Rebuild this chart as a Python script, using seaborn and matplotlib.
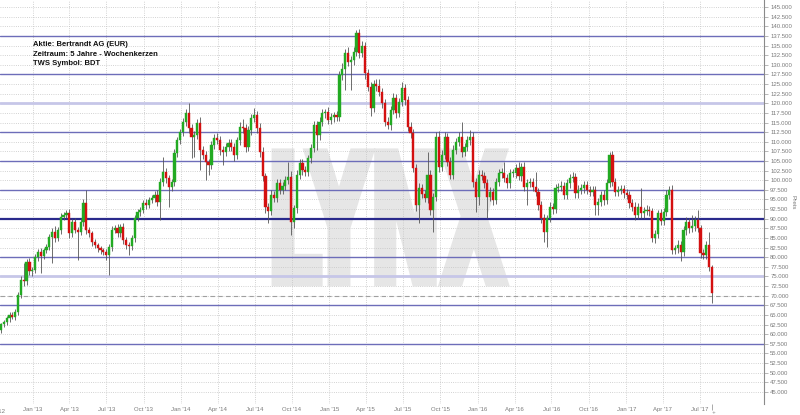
"""Bertrandt AG weekly candles, 5 years, with LYNX style support/resistance lines."""

import matplotlib

matplotlib.use("Agg")

import matplotlib.dates as mdates
import matplotlib.pyplot as plt
import numpy as np
import pandas as pd
import seaborn as sns
from matplotlib.font_manager import FontProperties
from matplotlib.patches import PathPatch
from matplotlib.textpath import TextPath
from matplotlib.transforms import Affine2D


START_DATE = "2012-10-15"
FIRST_OPEN = 61.0

# weekly closes (EUR)
CLOSES = [
    62.6, 63.2, 64.1, 65.0, 64.6, 65.9, 70.2, 74.0, 73.8, 78.8,
    76.3, 76.6, 80.0, 81.4, 80.3, 81.9, 82.7, 85.3, 86.6, 84.9,
    87.1, 90.5, 91.0, 91.4, 86.2, 89.2, 87.1, 86.6, 89.2, 94.0,
    87.1, 86.2, 84.0, 83.2, 82.3, 81.9, 81.4, 80.6, 82.7, 87.1,
    87.5, 86.2, 87.9, 84.5, 83.2, 83.0, 84.9, 90.1, 91.8, 92.3,
    94.0, 93.6, 94.9, 95.3, 96.2, 94.4, 99.6, 102.2, 100.5, 98.3,
    99.6, 107.0, 110.4, 112.6, 115.2, 117.4, 113.5, 111.3, 111.7, 114.8,
    107.9, 106.5, 104.8, 104.0, 109.2, 110.9, 110.4, 107.9, 107.4, 108.7,
    109.6, 108.7, 106.5, 110.4, 113.9, 113.5, 108.7, 113.0, 116.1, 116.9,
    113.5, 107.4, 101.0, 93.1, 92.0, 96.2, 95.5, 99.2, 97.5, 98.6,
    100.0, 100.9, 89.2, 92.7, 101.4, 104.4, 102.6, 102.2, 105.7, 108.3,
    114.3, 111.7, 115.2, 117.4, 117.6, 115.6, 116.5, 116.9, 116.5, 127.3,
    129.0, 133.0, 130.8, 131.2, 133.4, 138.2, 133.0, 135.0, 127.8, 124.3,
    118.7, 125.0, 124.5, 123.0, 120.0, 115.2, 114.3, 118.2, 121.3, 117.4,
    120.4, 123.9, 120.8, 113.9, 112.2, 103.1, 93.6, 97.9, 96.5, 95.3,
    101.4, 92.3, 95.7, 111.3, 103.5, 106.5, 111.3, 104.8, 101.4, 107.9,
    110.0, 111.3, 107.4, 108.7, 110.4, 111.3, 99.6, 95.7, 101.4, 101.0,
    99.2, 95.7, 97.0, 94.9, 99.5, 101.8, 102.0, 100.5, 99.2, 101.8,
    101.9, 103.1, 101.0, 103.5, 98.3, 99.2, 99.6, 98.3, 97.0, 93.6,
    90.1, 86.6, 90.1, 93.1, 92.5, 97.9, 98.3, 98.6, 96.2, 99.2,
    100.5, 100.9, 96.6, 97.5, 97.9, 98.8, 97.5, 97.0, 97.4, 93.6,
    94.4, 96.2, 94.9, 99.2, 106.5, 99.6, 97.0, 97.5, 97.8, 96.6,
    96.2, 94.0, 93.1, 91.0, 93.1, 91.4, 92.0, 92.3, 91.9, 84.9,
    86.0, 91.4, 89.5, 91.8, 96.2, 97.5, 81.9, 82.3, 83.2, 81.4,
    87.0, 89.2, 87.5, 88.0, 89.7, 87.5, 81.0, 80.6, 83.2, 77.5,
    70.6,
]

# wick length above the body / below the body (EUR)
UPPER_WICKS = [
    0.4, 0.6, 0.6, 0.7, 0.8, 0.6, 0.8, 1.0, 4.4, 0.8,
    1.0, 0.8, 0.8, 0.7, 0.9, 0.6, 0.7, 0.8, 1.0, 1.4,
    0.8, 0.9, 0.7, 0.9, 1.2, 0.8, 1.0, 0.8, 0.9, 1.0,
    3.5, 0.8, 0.7, 0.8, 0.6, 0.7, 0.6, 0.8, 0.7, 0.9,
    1.0, 1.2, 0.8, 1.0, 0.7, 0.8, 0.8, 0.9, 0.7, 0.8,
    0.9, 1.0, 0.7, 0.8, 0.9, 1.2, 1.0, 3.9, 1.0, 0.8,
    0.8, 1.0, 0.9, 0.8, 1.0, 1.2, 2.6, 1.0, 1.1, 1.2,
    1.6, 0.9, 1.0, 0.8, 1.0, 1.2, 1.3, 1.0, 0.9, 1.0,
    1.1, 1.2, 1.0, 0.9, 1.2, 2.1, 1.0, 1.1, 1.2, 1.8,
    1.0, 1.3, 1.2, 0.9, 1.0, 1.2, 1.0, 1.1, 1.2, 1.0,
    1.2, 3.9, 1.5, 1.0, 1.2, 1.0, 1.1, 1.2, 0.9, 1.0,
    1.2, 1.0, 1.1, 1.2, 1.0, 1.3, 1.0, 0.9, 1.1, 1.0,
    1.4, 1.2, 1.5, 1.0, 1.2, 0.8, 1.0, 1.2, 1.0, 1.2,
    1.2, 1.0, 1.3, 1.8, 1.0, 1.2, 1.1, 1.0, 1.3, 1.1,
    1.0, 1.5, 1.2, 1.0, 1.3, 1.1, 1.2, 1.4, 1.2, 1.0,
    6.0, 1.2, 1.0, 1.2, 1.5, 1.3, 1.2, 1.0, 1.2, 1.3,
    1.0, 1.2, 3.9, 1.0, 1.1, 1.7, 1.2, 1.0, 1.2, 1.3,
    1.1, 1.0, 1.2, 1.0, 1.0, 1.1, 1.3, 2.8, 1.0, 1.1,
    1.0, 1.2, 1.7, 1.0, 1.2, 1.0, 1.1, 1.0, 3.9, 1.0,
    1.0, 1.1, 0.9, 1.2, 1.0, 1.1, 1.0, 1.2, 1.0, 1.1,
    1.0, 1.3, 1.0, 1.2, 1.0, 1.1, 1.0, 0.9, 1.0, 1.0,
    1.1, 1.0, 1.2, 1.0, 0.8, 1.0, 1.1, 1.0, 0.9, 1.0,
    1.0, 1.1, 1.0, 1.2, 1.0, 4.8, 1.0, 1.2, 1.0, 1.0,
    1.1, 1.0, 1.2, 1.0, 1.3, 1.0, 1.3, 1.0, 1.2, 1.0,
    1.0, 1.2, 1.0, 3.0, 1.0, 2.7, 1.0, 1.2, 1.0, 3.4,
    0.6,
]
LOWER_WICKS = [
    0.6, 0.8, 0.7, 0.8, 0.7, 0.9, 1.0, 0.8, 1.2, 0.9,
    1.0, 1.2, 0.8, 0.9, 4.5, 0.7, 0.8, 0.9, 6.9, 1.0,
    0.8, 1.0, 0.9, 0.7, 1.2, 1.0, 0.9, 7.3, 0.8, 1.0,
    1.1, 0.9, 1.0, 0.8, 0.9, 1.0, 0.8, 1.2, 5.2, 1.0,
    0.8, 1.0, 0.9, 1.1, 1.0, 2.4, 1.0, 0.9, 0.8, 1.0,
    0.9, 1.0, 0.8, 0.9, 1.0, 1.1, 4.7, 1.0, 1.2, 5.2,
    1.0, 1.2, 0.9, 1.0, 1.1, 1.0, 1.2, 5.6, 5.2, 1.0,
    5.2, 1.0, 4.8, 2.6, 1.2, 1.0, 1.1, 1.3, 3.4, 1.0,
    1.2, 1.0, 1.4, 1.0, 1.2, 1.1, 1.3, 1.0, 1.2, 1.0,
    1.2, 1.4, 1.3, 1.5, 3.2, 1.0, 1.2, 1.1, 1.0, 1.2,
    1.1, 1.0, 3.4, 1.5, 1.2, 1.0, 1.3, 1.2, 1.0, 1.1,
    1.0, 3.8, 1.2, 1.0, 1.2, 1.1, 1.0, 1.3, 1.0, 1.2,
    1.2, 5.6, 1.0, 7.4, 1.2, 1.0, 1.3, 1.0, 1.5, 1.2,
    2.0, 1.0, 1.2, 1.1, 1.3, 1.2, 1.0, 1.3, 1.1, 1.2,
    1.0, 1.2, 1.3, 1.1, 1.2, 1.0, 1.5, 4.8, 1.2, 1.0,
    1.3, 1.2, 5.7, 1.0, 1.3, 1.2, 1.0, 1.2, 1.1, 1.0,
    1.2, 1.0, 1.3, 1.1, 1.0, 1.2, 1.4, 3.9, 2.1, 1.0,
    1.2, 5.6, 1.0, 1.3, 1.1, 1.0, 1.2, 1.0, 1.1, 1.2,
    1.0, 1.2, 1.0, 1.1, 1.2, 4.7, 1.0, 1.2, 1.1, 1.3,
    1.2, 2.6, 3.9, 1.0, 1.2, 1.1, 1.0, 1.2, 1.1, 1.0,
    1.2, 1.0, 1.3, 1.1, 1.0, 1.2, 1.1, 1.0, 1.2, 2.6,
    2.5, 1.0, 1.2, 1.1, 1.0, 1.2, 1.0, 1.1, 1.0, 1.2,
    1.0, 1.2, 1.0, 1.3, 1.0, 1.2, 1.1, 1.0, 1.2, 0.9,
    1.2, 1.0, 1.1, 1.0, 1.2, 1.0, 1.1, 1.0, 1.2, 2.5,
    1.0, 1.1, 1.2, 1.0, 1.1, 1.0, 1.2, 1.0, 1.1, 1.0,
    2.6,
]

RESISTANCE_LEVELS = [137.5, 127.5, 112.5, 105.0, 97.5, 80.0, 67.5, 57.5]
LIGHT_LEVELS = [120.0, 75.0]
KEY_LEVEL = 90.0
DASHED_LEVEL = 70.0

INFO_LINES = [
    "Aktie: Bertrandt AG (EUR)",
    "Zeitraum: 5 Jahre - Wochenkerzen",
    "TWS Symbol: BDT",
]

GREEN = "#22aa22"
RED = "#d41010"
LABEL_GREY = "#7a7a7a"


def main() -> None:
    sns.set_theme(style="white")
    plt.rcParams["font.family"] = ["Liberation Sans", "DejaVu Sans"]

    closes = np.asarray(CLOSES, dtype=float)
    opens = np.concatenate([[FIRST_OPEN], closes[:-1]])
    body_top = np.maximum(opens, closes)
    body_bot = np.minimum(opens, closes)
    highs = body_top + np.asarray(UPPER_WICKS)
    lows = body_bot - np.asarray(LOWER_WICKS)

    dates = pd.date_range(START_DATE, periods=len(closes), freq="7D")
    x = mdates.date2num(dates)
    colors = np.where(closes >= opens, GREEN, RED)

    fig = plt.figure(figsize=(8.0, 4.15), dpi=100)
    ax = fig.add_axes([0.0, 0.0265, 0.955, 0.9735])

    # LYNX watermark, squeezed into its box and thickened with an outline
    path = TextPath((0, 0), "LYNX", size=1, prop=FontProperties(family="DejaVu Sans", weight="bold"))
    ext = path.get_extents()
    box_x0, box_x1, box_y0, box_y1 = 0.36, 0.661, 0.30, 0.624
    sx = (box_x1 - box_x0) / ext.width
    sy = (box_y1 - box_y0) / ext.height
    tr = Affine2D().translate(-ext.x0, -ext.y0).scale(sx, sy).translate(box_x0, box_y0)
    ax.add_patch(PathPatch(tr.transform_path(path), transform=ax.transAxes,
                           facecolor="#e6e6e6", edgecolor="#e6e6e6", lw=5,
                           joinstyle="miter", zorder=0.5))

    for lvl in RESISTANCE_LEVELS:
        ax.axhline(lvl, color="#6d6db9", lw=1.0, zorder=1)
    for lvl in LIGHT_LEVELS:
        ax.axhline(lvl, color="#c6c6e8", lw=2.0, zorder=1)
    ax.axhline(KEY_LEVEL, color="#2a2a8c", lw=1.6, zorder=1)
    ax.axhline(DASHED_LEVEL, color="#a0a0a0", lw=0.8, ls=(0, (4, 3)), zorder=1)

    # candles
    ax.vlines(x, lows, highs, color="#555555", lw=0.6, zorder=2)
    heights = np.maximum(body_top - body_bot, 0.25)
    ax.bar(x, heights, bottom=body_bot, width=5.4, color=colors,
           edgecolor=colors, lw=0.3, zorder=3)

    # axes
    ax.set_ylim(41.88, 146.82)
    ax.set_xlim(x[0] - 0.35 * 7, x[0] + 268.3 * 7)

    yticks = np.arange(45.0, 145.01, 2.5)
    ax.set_yticks(yticks)
    ax.set_yticklabels([f"{v:.3f}" for v in yticks])
    ax.yaxis.tick_right()
    ax.yaxis.set_label_position("right")
    ax.set_ylabel("Preis", rotation=270, fontsize=4.6, color=LABEL_GREY)
    ax.yaxis.set_label_coords(1.041, 0.5)

    quarters = pd.date_range("2013-01-01", "2017-07-01", freq="QS")
    ax.set_xticks(mdates.date2num(quarters))
    ax.set_xticklabels([f"{d:%b} '{d:%y}" for d in quarters])
    ax.set_xticks([x[-1]], minor=True)
    ax.set_xticklabels(["  +"], minor=True)
    ax.text(mdates.date2num(pd.Timestamp("2012-10-01")), -0.012, "Oct '12",
            transform=ax.get_xaxis_transform(), ha="center", va="top",
            fontsize=4.3, color=LABEL_GREY, clip_on=False)

    ax.tick_params(axis="y", which="major", right=True, length=3, width=0.5,
                   color="#9a9a9a", labelsize=4.3, labelcolor=LABEL_GREY, pad=1.5)
    ax.tick_params(axis="x", which="major", bottom=False, length=0,
                   labelsize=4.3, labelcolor=LABEL_GREY, pad=2.5)
    ax.tick_params(axis="x", which="minor", bottom=True, length=4, width=0.5,
                   color="#888888", labelsize=4.3, labelcolor=LABEL_GREY, pad=0.5)

    ax.grid(True, which="major", ls=":", lw=0.6, color="#c4c4c4", zorder=0)
    ax.set_axisbelow(True)

    for side in ("top", "left", "bottom"):
        ax.spines[side].set_visible(False)
    ax.spines["right"].set_color("#8a8a8a")
    ax.spines["right"].set_linewidth(0.8)

    for k, line in enumerate(INFO_LINES):
        ax.text(0.043, 0.889 - k * 0.0235, line, transform=ax.transAxes,
                ha="left", va="center", fontsize=5.5, fontweight="bold",
                color="#111111", zorder=5)

    fig.savefig("out.png", dpi=100, facecolor="white")
    plt.close(fig)


if __name__ == "__main__":
    main()
